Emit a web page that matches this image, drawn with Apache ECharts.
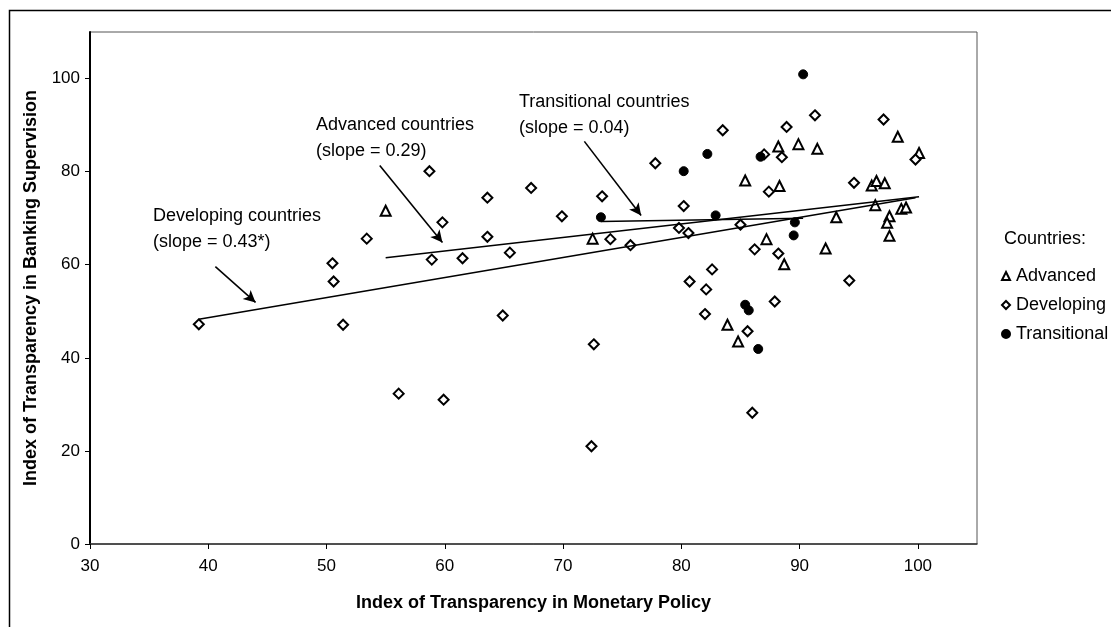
<!DOCTYPE html>
<html>
<head>
<meta charset="utf-8">
<script src="https://cdn.jsdelivr.net/npm/echarts@6/dist/echarts.min.js"></script>
<style>
  html, body { margin: 0; padding: 0; background: #fff; }
  #chart { width: 1111px; height: 627px; }
</style>
</head>
<body>
<div id="chart"></div>
<script>
// 数据: [monetary policy, banking supervision]
var advanced = [
  [55.0, 71.6], [72.5, 65.6], [85.4, 78.1], [88.2, 85.4], [89.9, 85.9], [91.5, 84.9],
  [98.3, 87.5], [100.1, 84.0], [88.3, 76.9], [96.1, 77.0], [96.5, 78.0], [97.2, 77.5],
  [96.4, 72.8], [98.6, 72.0], [99.0, 72.3], [97.6, 70.4], [97.4, 69.0], [97.6, 66.2],
  [93.1, 70.2], [87.2, 65.5], [92.2, 63.5], [88.7, 60.1], [83.9, 47.1], [84.8, 43.5]
];
var developing = [
  [39.2, 47.2], [50.5, 60.3], [50.6, 56.4], [51.4, 47.1], [53.4, 65.6], [56.1, 32.3],
  [58.7, 80.1], [58.9, 61.1], [59.8, 69.1], [59.9, 31.0], [61.5, 61.4], [63.6, 74.4],
  [63.6, 66.0], [64.9, 49.1], [65.5, 62.6], [67.3, 76.5], [69.9, 70.4], [72.4, 21.0],
  [72.6, 42.9], [73.3, 74.7], [74.0, 65.5], [75.7, 64.2], [77.8, 81.8], [79.8, 67.9],
  [80.2, 72.6], [80.6, 66.8], [80.7, 56.4], [82.0, 49.4], [82.1, 54.7], [82.6, 59.0],
  [83.5, 88.9], [85.0, 68.6], [85.6, 45.7], [86.0, 28.2], [86.2, 63.3], [87.0, 83.7],
  [87.4, 75.7], [87.9, 52.1], [88.2, 62.4], [88.5, 83.1], [88.9, 89.6], [91.3, 92.1],
  [94.2, 56.6], [94.6, 77.6], [97.1, 91.2], [99.8, 82.6]
];
var transitional = [
  [73.2, 70.2], [80.2, 80.1], [82.2, 83.8], [82.9, 70.6], [85.4, 51.4], [85.7, 50.2],
  [86.5, 41.9], [86.7, 83.2], [89.6, 69.1], [89.5, 66.3], [90.3, 100.9]
];
// 回归线 (两端点)
var fitDeveloping = [[39.2, 48.3], [99.8, 74.4]];
var fitAdvanced = [[55.0, 61.5], [100.1, 74.6]];
var fitTransitional = [[73.2, 69.3], [90.3, 70.0]];
// 箭头 [起点, 终点]
var arrows = [
  [[40.6, 59.6], [44.0, 51.9]],
  [[54.5, 81.3], [59.8, 64.8]],
  [[71.8, 86.5], [76.6, 70.6]]
];
var xTicks = [30, 40, 50, 60, 70, 80, 90, 100];
var yTicks = [0, 20, 40, 60, 80, 100];

var FONT = "'Liberation Sans', Arial, sans-serif";
var chart = echarts.init(document.getElementById('chart'));

function fitLine(data) {
    return {
        type: 'line',
        data: data,
        symbol: 'none',
        silent: true,
        z: 4,
        lineStyle: { color: '#000', width: 1.6 }
    };
}

var option = {
    animation: false,
    textStyle: { fontFamily: FONT, color: '#000' },
    grid: {
        left: 90, right: 134, top: 32, bottom: 83,
        show: true, borderColor: '#555', borderWidth: 1
    },
    xAxis: {
        type: 'value',
        min: 30, max: 105, interval: 10,
        name: 'Index of Transparency in Monetary Policy',
        nameLocation: 'middle',
        nameGap: 50,
        nameTextStyle: { fontSize: 18, fontWeight: 'bold', color: '#000' },
        axisLine: { onZero: false, lineStyle: { color: '#333', width: 1.5 } },
        axisTick: { show: true, length: 5, customValues: xTicks, lineStyle: { color: '#000' } },
        axisLabel: { customValues: xTicks, fontSize: 17, color: '#000', margin: 14 },
        splitLine: { show: false }
    },
    yAxis: {
        type: 'value',
        min: 0, max: 110, interval: 20,
        name: 'Index of Transparency in Banking Supervision',
        nameLocation: 'middle',
        nameGap: 50,
        nameTextStyle: { fontSize: 18, fontWeight: 'bold', color: '#000' },
        axisLine: { show: true, onZero: false, lineStyle: { color: '#000', width: 2 } },
        axisTick: { show: true, length: 5, customValues: yTicks, lineStyle: { color: '#000' } },
        axisLabel: { customValues: yTicks, fontSize: 17, color: '#000', margin: 10 },
        splitLine: { show: false }
    },
    legend: {
        orient: 'vertical',
        left: 996, top: 262,
        itemWidth: 8, itemHeight: 8,
        itemGap: 11,
        textStyle: { fontSize: 18, color: '#000', padding: [0, 0, 0, 1] },
        data: ['Advanced', 'Developing', 'Transitional']
    },
    graphic: [
        { type: 'text', left: 1004, top: 230, style: { text: 'Countries:', font: '18px ' + FONT, fill: '#000' } },
        { type: 'text', left: 153, top: 203, style: { text: 'Developing countries\n(slope = 0.43*)', font: '18px ' + FONT, fill: '#000', lineHeight: 26 } },
        { type: 'text', left: 316, top: 112, style: { text: 'Advanced countries\n(slope = 0.29)', font: '18px ' + FONT, fill: '#000', lineHeight: 26 } },
        { type: 'text', left: 519, top: 89, style: { text: 'Transitional countries\n(slope = 0.04)', font: '18px ' + FONT, fill: '#000', lineHeight: 26 } },
        { type: 'rect', left: 7, top: 8, shape: { width: 1112, height: 626 }, style: { fill: 'none', stroke: '#000', lineWidth: 1.5 }, silent: true }
    ],
    series: [
        {
            name: 'Advanced', type: 'scatter', data: advanced,
            symbol: 'triangle', symbolSize: 10, z: 3,
            itemStyle: { color: '#fff', borderColor: '#000', borderWidth: 2, opacity: 1 }
        },
        {
            name: 'Developing', type: 'scatter', data: developing,
            symbol: 'diamond', symbolSize: 10, z: 3,
            itemStyle: { color: '#fff', borderColor: '#000', borderWidth: 2, opacity: 1 }
        },
        {
            name: 'Transitional', type: 'scatter', data: transitional,
            symbol: 'circle', symbolSize: 9, z: 3,
            itemStyle: { color: '#000', borderColor: '#000', borderWidth: 1, opacity: 1 }
        },
        fitLine(fitDeveloping),
        fitLine(fitAdvanced),
        fitLine(fitTransitional),
        {
            type: 'scatter', data: [], silent: true,
            markLine: {
                silent: true,
                symbol: ['none', 'arrow'],
                symbolSize: [9, 12],
                label: { show: false },
                lineStyle: { color: '#000', width: 1.6, type: 'solid' },
                data: arrows.map(function (a) {
                    return [{ coord: a[0] }, { coord: a[1] }];
                })
            }
        }
    ]
};
chart.setOption(option);
</script>
</body>
</html>
